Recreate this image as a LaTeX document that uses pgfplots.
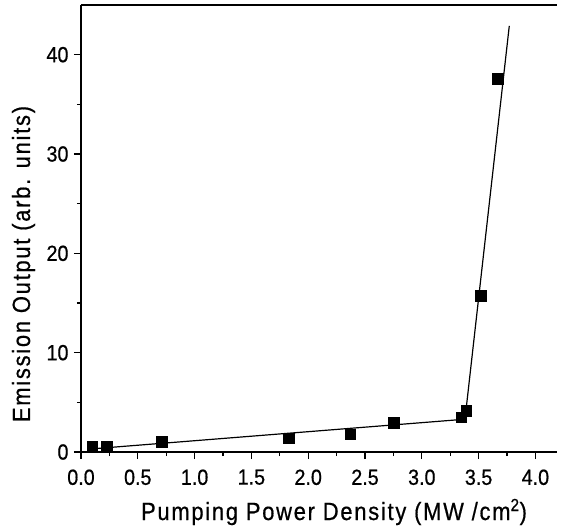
\documentclass[border=0pt]{standalone}
\usepackage{fontspec}
\setmainfont{Liberation Sans}
\newfontfamily\tickfont{Liberation Sans}[FakeStretch=0.9, FakeBold=0.6]
\newfontfamily\labfont{Liberation Sans}[FakeStretch=0.88, LetterSpace=7, FakeBold=0.6]
\usepackage{pgfplots}
\pgfplotsset{compat=1.18}
\usetikzlibrary{calc}
\begin{document}
\begin{tikzpicture}
\begin{axis}[
  scale only axis,
  width=476bp, height=447bp,
  xmin=0, xmax=4.19, ymin=0, ymax=45,
  axis x line=bottom, axis y line=left,
  axis line style={-, line width=1.3pt},
  tick align=outside,
  major tick length=7bp, minor tick length=4bp,
  every tick/.style={black, line width=1.1pt},
  xtick={0,0.5,...,4.0},
  ytick={0,10,20,30,40},
  minor x tick num=1, minor y tick num=1,
  /pgf/number format/assume math mode=true,
  ticklabel style={font=\tickfont\fontsize{22}{24}\selectfont},
  xticklabel style={yshift=-7bp, /pgf/number format/.cd, fixed, fixed zerofill, precision=1},
  yticklabel style={xshift=-2bp},
  label style={font=\labfont\fontsize{25}{28}\selectfont},
  xlabel={Pumping Power Density (MW /cm\textsuperscript{2})},
  ylabel={Emission Output (arb. units)},
  xlabel style={at={($(axis description cs:0.5,0)+(15bp,-68bp)$)}, anchor=base},
  ylabel style={at={($(axis description cs:0,0.5)+(-51bp,-35.5bp)$)}, anchor=base},
  clip=false,
]
\addplot[only marks, mark=square*, mark size=5.3bp, black] coordinates {
  (0.10,0.53) (0.225,0.6) (0.71,1.04) (1.83,1.38) (2.37,1.78)
  (2.75,2.95) (3.345,3.5) (3.39,4.17) (3.52,15.76) (3.667,37.6)
};
\addplot[black, line width=1.2pt] coordinates {
  (0.08,0.3) (3.38,3.3) (3.77,42.9)
};
\draw[line width=1.3pt] (rel axis cs:0,1) -- (rel axis cs:1,1);
\path (rel axis cs:1,1) ++(6bp,5bp) coordinate (tr);
\path (rel axis cs:0,0) ++(-81bp,-75bp) coordinate (bl);
\path (tr) rectangle (bl);
\end{axis}
\end{tikzpicture}
\end{document}
